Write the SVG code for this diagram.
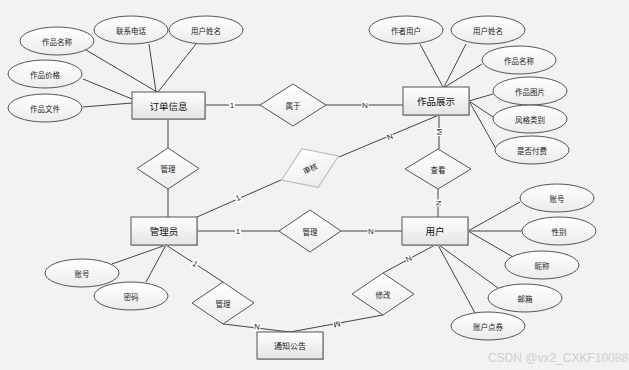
<svg xmlns="http://www.w3.org/2000/svg" width="629" height="370" viewBox="0 0 629 370">
<style>
  .ent rect.b{fill:url(#gE);stroke:#555;stroke-width:1}
  .ent rect.s{fill:#bdbdbd}
  .att ellipse{fill:url(#gA);stroke:#555;stroke-width:1}
  .rel polygon{fill:url(#gA);stroke:#555;stroke-width:1}
  .rel.light polygon{stroke:#bbb}
  text{font-family:"Noto Sans CJK SC","Noto Sans",sans-serif;text-anchor:middle;dominant-baseline:central;fill:#222}
  .ent text{font-size:9.5px;fill:#111}
  .att text,.rel text{font-size:7.5px}
  #connectors path{stroke:#444;stroke-width:1;fill:none}
  .lbl rect{fill:#fff}
  .lbl text{font-family:"Liberation Sans",sans-serif;font-size:8px;fill:#222}
</style>
<defs>
  <linearGradient id="gE" x1="0" y1="0" x2="0" y2="1"><stop offset="0" stop-color="#ffffff"/><stop offset="1" stop-color="#e4e4e4"/></linearGradient>
  <linearGradient id="gA" x1="0" y1="0" x2="0" y2="1"><stop offset="0" stop-color="#ffffff"/><stop offset="1" stop-color="#ececec"/></linearGradient>
</defs>
<rect width="629" height="370" fill="#f2f2f2"/>

<g id="connectors">
  <path d="M86,50 L157,92 M149,44 L156,92 M196,44 L158,92 M83,79 L132,99 M83,107 L132,103"/>
  <path d="M205,105 L260,105 M326,105 L403,105"/>
  <path d="M168,119 L168,148 M168,189 L168,217"/>
  <path d="M420,44 L443,87 M466,44 L444,87 M482,64 L445,87 M493,94 L469,101 M493,117 L469,101 M496,149 L469,101"/>
  <path d="M439,115 L439,149 M438,189 L438,217"/>
  <path d="M197,217 L281,180 M339,157 L439,115"/>
  <path d="M197,231 L279,231 M341,231 L402,231"/>
  <path d="M112,264 L166,245 M146,282 L166,245 M166,245 L223,282"/>
  <path d="M223,324 L290,332 L383,315 M383,273 L435,245"/>
  <path d="M520,202 L468,231 M522,231 L468,231 M513,257 L468,231 M498,288 L439,245 M475,313 L438,245"/>
  <g class="lbl">
    <g transform="translate(232,105)"><rect x="-3" y="-4.5" width="6" height="9"/><text>1</text></g>
    <g transform="translate(365,105)"><rect x="-3.5" y="-4.5" width="7" height="9"/><text>N</text></g>
    <g transform="translate(238,198) rotate(-23)"><rect x="-3" y="-4.5" width="6" height="9"/><text>1</text></g>
    <g transform="translate(390,137) rotate(-23)"><rect x="-3.5" y="-4.5" width="7" height="9"/><text>N</text></g>
    <g transform="translate(439,132) rotate(-90)"><rect x="-4" y="-4.5" width="8" height="9"/><text>M</text></g>
    <g transform="translate(438,203) rotate(-90)"><rect x="-3.5" y="-4.5" width="7" height="9"/><text>N</text></g>
    <g transform="translate(238,231)"><rect x="-3" y="-4.5" width="6" height="9"/><text>1</text></g>
    <g transform="translate(371,231)"><rect x="-3.5" y="-4.5" width="7" height="9"/><text>N</text></g>
    <g transform="translate(195,264) rotate(33)"><rect x="-3" y="-4.5" width="6" height="9"/><text>1</text></g>
    <g transform="translate(257,327) rotate(7)"><rect x="-3.5" y="-4.5" width="7" height="9"/><text>N</text></g>
    <g transform="translate(337,324) rotate(170)"><rect x="-4" y="-4.5" width="8" height="9"/><text>M</text></g>
    <g transform="translate(409,259) rotate(-28)"><rect x="-3.5" y="-4.5" width="7" height="9"/><text>N</text></g>
  </g>
</g>

<g id="order" class="ent"><rect class="s" x="133" y="93" width="73" height="27"/><rect class="b" x="132" y="92" width="73" height="27"/><text x="168.5" y="105.5">订单信息</text></g>
<g id="works" class="ent"><rect class="s" x="404" y="88" width="66" height="28"/><rect class="b" x="403" y="87" width="66" height="28"/><text x="436" y="101">作品展示</text></g>
<g id="admin" class="ent"><rect class="s" x="132" y="218" width="66" height="28"/><rect class="b" x="131" y="217" width="66" height="28"/><text x="164" y="231">管理员</text></g>
<g id="user" class="ent"><rect class="s" x="403" y="218" width="66" height="28"/><rect class="b" x="402" y="217" width="66" height="28"/><text x="435" y="231">用户</text></g>
<g id="notice" class="ent"><rect class="s" x="258" y="333" width="66" height="27"/><rect class="b" x="257" y="332" width="66" height="27"/><text x="290" y="345.5" style="font-size:8px">通知公告</text></g>

<g id="rel-belong" class="rel"><polygon points="293,84 326,105 293,126 260,105"/><text x="293" y="105">属于</text></g>
<g id="rel-manage1" class="rel"><polygon points="168,148 199,168.5 168,189 137,168.5"/><text x="168" y="168.5">管理</text></g>
<g id="rel-audit" class="rel light" transform="rotate(-23 310 168)"><polygon points="310,147 341,168 310,189 279,168"/><text x="310" y="168">审核</text></g>
<g id="rel-view" class="rel"><polygon points="438,149 471,169 438,189 405,169"/><text x="438" y="169">查看</text></g>
<g id="rel-manage2" class="rel"><polygon points="310,210 341,231 310,252 279,231"/><text x="310" y="231">管理</text></g>
<g id="rel-manage3" class="rel"><polygon points="223,282 254,303 223,324 192,303"/><text x="223" y="303">管理</text></g>
<g id="rel-modify" class="rel"><polygon points="383,273 414,294 383,315 352,294"/><text x="383" y="294">修改</text></g>

<g id="a-o-name" class="att"><ellipse cx="57" cy="41" rx="37" ry="14"/><text x="57" y="41">作品名称</text></g>
<g id="a-o-phone" class="att"><ellipse cx="131" cy="30" rx="37" ry="14"/><text x="131" y="30">联系电话</text></g>
<g id="a-o-uname" class="att"><ellipse cx="206" cy="30" rx="37" ry="14"/><text x="206" y="30">用户姓名</text></g>
<g id="a-o-price" class="att"><ellipse cx="45" cy="74" rx="37" ry="14"/><text x="45" y="74">作品价格</text></g>
<g id="a-o-file" class="att"><ellipse cx="45" cy="108" rx="37" ry="14"/><text x="45" y="108">作品文件</text></g>

<g id="a-w-author" class="att"><ellipse cx="406" cy="30" rx="37" ry="14"/><text x="406" y="30">作者用户</text></g>
<g id="a-w-uname" class="att"><ellipse cx="488" cy="30" rx="37" ry="14"/><text x="488" y="30">用户姓名</text></g>
<g id="a-w-name" class="att"><ellipse cx="519" cy="60" rx="37" ry="14"/><text x="519" y="60">作品名称</text></g>
<g id="a-w-pic" class="att"><ellipse cx="530" cy="91" rx="37" ry="14"/><text x="530" y="91">作品图片</text></g>
<g id="a-w-style" class="att"><ellipse cx="530" cy="119" rx="37" ry="14"/><text x="530" y="119">风格类别</text></g>
<g id="a-w-paid" class="att"><ellipse cx="532" cy="150" rx="37" ry="14"/><text x="532" y="150">是否付费</text></g>

<g id="a-u-acct" class="att"><ellipse cx="557" cy="198" rx="37" ry="14"/><text x="557" y="198">账号</text></g>
<g id="a-u-sex" class="att"><ellipse cx="559" cy="231" rx="37" ry="14"/><text x="559" y="231">性别</text></g>
<g id="a-u-nick" class="att"><ellipse cx="542" cy="265" rx="37" ry="14"/><text x="542" y="265">昵称</text></g>
<g id="a-u-mail" class="att"><ellipse cx="525" cy="298" rx="37" ry="14"/><text x="525" y="298">邮箱</text></g>
<g id="a-u-coupon" class="att"><ellipse cx="488" cy="326" rx="37" ry="14"/><text x="488" y="326">账户点券</text></g>

<g id="a-a-acct" class="att"><ellipse cx="82" cy="273" rx="37" ry="14"/><text x="82" y="273">账号</text></g>
<g id="a-a-pwd" class="att"><ellipse cx="131" cy="296" rx="37" ry="14"/><text x="131" y="296">密码</text></g>

<text x="558" y="358" style="font-family:'Liberation Sans',sans-serif;font-size:12px;fill:#cfcfcf">CSDN @vx2_CXKF10088</text>
</svg>
